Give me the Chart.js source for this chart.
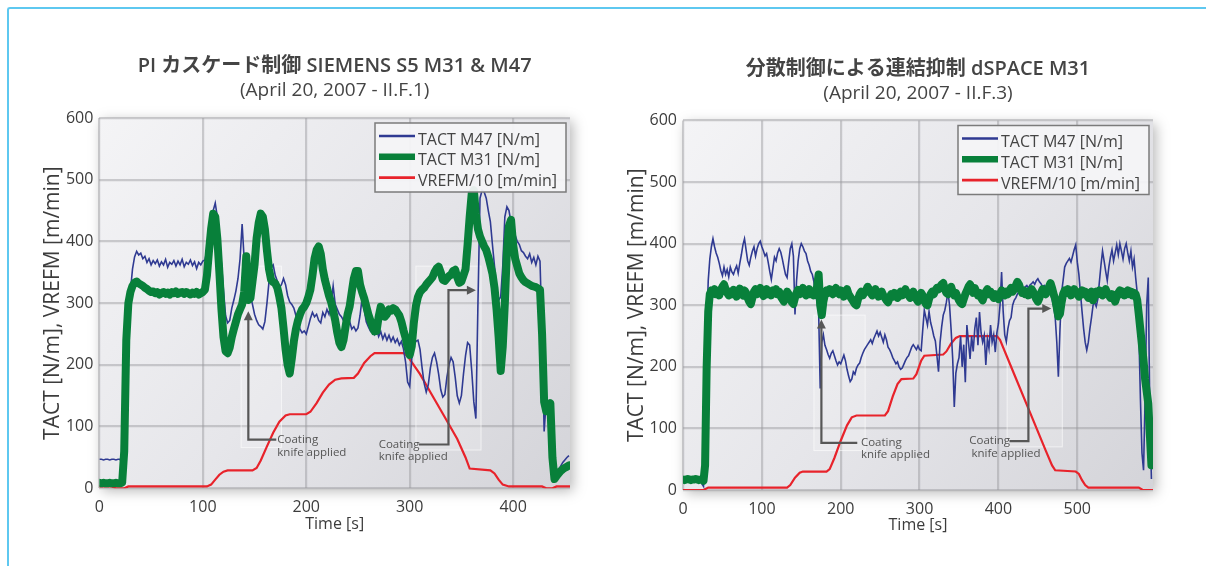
<!DOCTYPE html>
<html>
<head>
<meta charset="utf-8">
<script src="https://cdn.jsdelivr.net/npm/chart.js@4.4.1/dist/chart.umd.min.js"></script>
<style>
  html, body { margin: 0; padding: 0; background: #fff; }
  body { width: 1206px; height: 566px; position: relative; overflow: hidden; }
  .frame {
    position: absolute; left: 7px; top: 7px; width: 1230px; height: 600px;
    border-top: 2px solid #5ec8f0; border-left: 2px solid #5ec8f0;
    border-top-left-radius: 3px; box-sizing: border-box;
  }
  #leftChart { position: absolute; left: 0; top: 0; }
  #rightChart { position: absolute; left: 600px; top: 0; }
</style>
</head>
<body>
<div class="frame"></div>
<canvas id="leftChart" width="600" height="566"></canvas>
<canvas id="rightChart" width="606" height="566"></canvas>
<script>
// ---- left panel: PI cascade, SIEMENS S5 (sampled every 2 s, from t = 0) ----
const leftStep = 2;
const leftM47 = [
  47, 47, 46, 47, 47, 46, 47, 47, 46, 47,
  47, 40, 15, 90, 230, 320, 355, 375, 384, 378,
  381, 372, 376, 366, 372, 362, 369, 364, 370, 360,
  367, 362, 371, 358, 366, 363, 369, 360, 368, 362,
  371, 359, 366, 363, 370, 361, 367, 356, 366, 362,
  368, 370, 385, 405, 430, 450, 462, 440, 395, 365,
  320, 280, 268, 272, 292, 305, 320, 340, 372, 428,
  370, 345, 328, 312, 298, 282, 272, 265, 262, 258,
  270, 300, 335, 358, 362, 345, 336, 325, 330, 340,
  330, 312, 302, 298, 292, 280, 268, 258, 252, 255,
  250, 262, 275, 285, 278, 282, 272, 268, 285, 278,
  290, 282, 300, 328, 298, 290, 282, 278, 272, 268,
  262, 270, 258, 262, 255, 260, 280, 308, 290, 270,
  262, 255, 262, 250, 258, 246, 254, 242, 250, 240,
  248, 238, 245, 236, 242, 232, 238, 226, 205, 172,
  165, 210, 232, 238, 240, 225, 195, 170, 156, 168,
  195, 212, 219, 205, 185, 160, 148, 152, 180, 200,
  212, 205, 180, 150, 138, 150, 185, 215, 236, 232,
  190, 140, 113, 300, 470, 483, 480, 470, 450, 432,
  395, 360, 325, 305, 310, 360, 440, 456, 450, 430,
  420, 410, 400, 395, 385, 382, 376, 372, 380, 366,
  374, 362, 376, 368, 250, 92, 142, 138, 130, 40,
  20, 24, 30, 36, 42, 46, 50, 53
];
const leftM31 = [
  9, 8, 9, 8, 8, 9, 8, 8, 9, 8,
  8, 9, 60, 240, 300, 318, 328, 333, 335, 332,
  330, 328, 325, 323, 320, 318, 319, 316, 318, 314,
  316, 318, 315, 317, 314, 318, 316, 319, 315, 317,
  318, 315, 318, 316, 314, 317, 315, 318, 314, 316,
  318, 322, 345, 385, 420, 445, 440, 405, 350, 290,
  245, 222, 219, 228, 245, 258, 270, 282, 290, 298,
  318, 376, 305, 308, 335, 362, 405, 430, 445, 440,
  420, 385, 355, 338, 334, 332, 325, 310, 292, 260,
  225, 200, 186, 210, 238, 258, 272, 282, 290, 294,
  300, 310, 322, 345, 372, 386, 392, 380, 355, 338,
  325, 312, 302, 288, 272, 252, 236, 229, 240, 262,
  282, 295, 318, 340, 352, 352, 330, 318, 308, 295,
  282, 272, 262, 254, 255, 278, 294, 286, 278, 282,
  290, 288, 292, 290, 285, 280, 270, 256, 244, 228,
  216, 230, 268, 295, 310, 318, 322, 325, 330, 334,
  338, 342, 350, 356, 359, 350, 338, 336, 340, 344,
  346, 352, 354, 342, 333, 335, 345, 355, 395, 440,
  478, 483, 445, 420, 408, 400, 392, 386, 375, 362,
  348, 325, 290, 245, 190, 230, 300, 385, 425, 435,
  395, 372, 360, 348, 342, 337, 334, 332, 330, 328,
  327, 326, 324, 322, 250, 140, 125, 130, 138, 50,
  15, 20, 24, 28, 31, 33, 35, 37
];
const leftVrefT = [0, 12, 16, 24, 28, 104, 108, 112, 116, 120, 124, 148, 152, 156, 162, 168, 174, 180, 184,
  200, 204, 210, 216, 222, 228, 234, 246, 250, 256, 262, 266, 294, 298, 310, 322, 334, 346, 354, 358,
  378, 382, 386, 390, 396, 428, 432, 438, 442, 455];
const leftVref = [3, 3, 0, 0, 3, 3, 6, 14, 22, 27, 29, 29, 33, 45, 68, 90, 108, 118, 120,
  120, 124, 138, 155, 168, 176, 178, 179, 186, 203, 214, 219, 219, 214, 185, 150, 115, 80, 50, 32,
  29, 24, 14, 6, 3, 3, 0, 0, 3, 3];
const leftXTicks = [0, 100, 200, 300, 400];

// ---- right panel: distributed control, dSPACE (sampled every 2 s, from t = 0) ----
const rightStep = 2;
const rightM47 = [
  18, 18, 17, 18, 18, 17, 18, 18, 17, 18,
  18, 17, 10, 6, 120, 260, 340, 375, 395, 408,
  395, 385, 378, 368, 356, 348, 362, 350, 358, 346,
  362, 354, 350, 358, 364, 352, 368, 382, 398, 408,
  390, 372, 365, 378, 388, 395, 380, 392, 400, 404,
  395, 388, 380, 384, 370, 355, 342, 360, 378, 372,
  385, 392, 386, 375, 362, 350, 345, 370, 392, 400,
  380, 285, 340, 372, 392, 400, 395, 388, 384, 372,
  365, 355, 350, 338, 318, 305, 290, 165, 240, 252,
  235, 228, 220, 214, 222, 226, 218, 210, 203, 208,
  205, 212, 219, 210, 196, 185, 176, 180, 192, 188,
  198, 203, 206, 215, 222, 228, 232, 236, 240, 244,
  238, 246, 252, 258, 250, 256, 248, 240, 252, 244,
  232, 228, 222, 215, 210, 205, 208, 200, 196, 198,
  204, 210, 215, 218, 225, 232, 236, 232, 228, 234,
  228, 226, 260, 292, 280, 268, 290, 272, 262, 250,
  242, 218, 192, 240, 265, 284, 292, 305, 322, 300,
  260, 213, 135, 190, 205, 215, 250, 200, 236, 175,
  268, 240, 213, 250, 225, 262, 280, 235, 289, 255,
  240, 251, 203, 245, 230, 268, 240, 252, 224, 255,
  270, 300, 354, 290, 252, 241, 262, 275, 280, 300,
  308, 312, 318, 322, 326, 324, 327, 330, 332, 328,
  333, 335, 338, 334, 340, 343, 338, 335, 330, 332,
  328, 324, 322, 320, 310, 298, 280, 240, 184, 260,
  320, 340, 362, 368, 372, 376, 370, 380, 390, 398,
  370, 350, 320, 290, 262, 240, 227, 240, 262, 280,
  300, 305, 298, 310, 338, 365, 388, 372, 355, 340,
  362, 378, 390, 372, 385, 398, 382, 400, 388, 375,
  392, 400, 385, 372, 388, 362, 375, 345, 320, 260,
  150, 60, 32, 150, 300, 345, 120, 18
];
const rightM31 = [
  17, 16, 17, 18, 17, 16, 17, 17, 18, 17,
  16, 17, 17, 15, 40, 200, 290, 318, 324, 320,
  326, 318, 322, 316, 325, 330, 334, 326, 320, 316,
  322, 318, 325, 320, 314, 322, 327, 319, 316, 324,
  320, 312, 306, 302, 312, 322, 326, 318, 322, 328,
  320, 315, 322, 326, 318, 322, 316, 324, 320, 326,
  318, 322, 314, 310, 306, 316, 322, 318, 312, 305,
  302, 312, 320, 325, 318, 322, 328, 320, 316, 322,
  326, 318, 322, 316, 320, 330, 350, 300, 284, 306,
  318, 324, 320, 326, 322, 318, 324, 328, 322, 318,
  324, 320, 314, 322, 326, 318, 314, 310, 306, 302,
  300, 310, 318, 322, 316, 320, 324, 330, 326, 320,
  316, 322, 326, 320, 314, 318, 322, 316, 312, 308,
  305, 312, 318, 314, 320, 316, 312, 318, 322, 316,
  320, 326, 320, 316, 312, 318, 322, 316, 310, 306,
  314, 320, 316, 308, 302, 300, 310, 318, 322, 318,
  324, 328, 326, 330, 334, 336, 326, 320, 318, 324,
  330, 322, 316, 320, 314, 308, 304, 302, 310, 318,
  324, 330, 334, 326, 320, 328, 322, 316, 320, 312,
  308, 316, 322, 326, 318, 322, 316, 312, 318, 314,
  310, 318, 324, 320, 316, 322, 318, 324, 328, 322,
  326, 332, 338, 334, 326, 320, 324, 318, 322, 316,
  320, 326, 322, 316, 310, 306, 312, 320, 326, 322,
  318, 324, 330, 336, 328, 318, 310, 296, 282, 286,
  304, 318, 324, 320, 326, 322, 316, 320, 326, 322,
  318, 314, 320, 324, 318, 322, 316, 312, 318, 322,
  308, 316, 322, 318, 324, 320, 316, 322, 326, 320,
  316, 312, 318, 312, 306, 314, 320, 324, 318, 322,
  316, 320, 324, 318, 322, 316, 320, 318, 308, 285,
  260, 235, 210, 180, 160, 140, 90, 40
];
const rightVrefT = [0, 26, 32, 132, 136, 142, 148, 152, 182, 186, 192, 200, 208, 214, 220, 256, 260, 266, 272, 277,
  292, 296, 302, 306, 330, 334, 340, 346, 351, 398, 402, 420, 440, 460, 468, 472, 498, 502, 506, 510, 514,
  578, 583, 596];
const rightVref = [0, 0, 4, 4, 8, 20, 28, 30, 30, 34, 52, 80, 105, 118, 121, 121, 128, 152, 172, 180,
  181, 188, 210, 218, 220, 225, 238, 247, 250, 250, 244, 188, 126, 64, 40, 32, 30, 26, 16, 8, 4,
  4, 0, 0];
const rightXTicks = [0, 100, 200, 300, 400, 500];

const yTicks = [0, 100, 200, 300, 400, 500, 600];
const seriesLabels = ['TACT M47 [N/m]', 'TACT M31 [N/m]', 'VREFM/10 [m/min]'];

// "Coating knife applied" call-outs, in data units (t [s], value)
const leftNotes = [
  { path: [[171, 79], [144, 79], [144, 287]], lines: [['Coating', 172, 78], ['knife applied', 172, 58]] },
  { path: [[309, 71], [337.5, 71], [337.5, 321], [364, 321]], lines: [['Coating', 270, 71], ['knife applied', 270, 51]] }
];
const rightNotes = [
  { path: [[221, 76.5], [175.5, 76.5], [175.5, 277]], lines: [['Coating', 225.6, 77], ['knife applied', 225.6, 57]] },
  { path: [[414, 79.5], [438, 79.5], [438, 294.6], [467, 294.6]], lines: [['Coating', 363, 79.5], ['knife applied', 365.8, 59.5]] }
];
// faint highlight boxes [t0, v0, t1, v1]
const leftBoxes = [[137, 66, 176, 360], [306, 62, 369, 360]];
const rightBoxes = [[166, 64, 231, 284], [411, 70, 481, 300]];

Chart.defaults.font.family = "'Open Sans', 'Noto Sans CJK JP', sans-serif";
Chart.defaults.color = '#3c3c3c';

const COLORS = { m47: '#2f3a92', m31: '#08803a', vref: '#e8232b' };

function stepPoints(values, step) {
  return values.map((v, i) => ({ x: i * step, y: v }));
}
function pairPoints(ts, vs) {
  return ts.map((t, i) => ({ x: t, y: vs[i] }));
}

// grey plot panel with a soft drop shadow
const plotBackground = {
  id: 'plotBackground',
  beforeDraw(chart) {
    const { ctx, chartArea: a } = chart;
    ctx.save();
    const g = ctx.createLinearGradient(a.left, a.top, a.right, a.bottom);
    g.addColorStop(0, '#f4f4f6');
    g.addColorStop(0.5, '#e6e6ea');
    g.addColorStop(1, '#d4d4d9');
    ctx.shadowColor = 'rgba(0,0,0,0.28)';
    ctx.shadowBlur = 12;
    ctx.shadowOffsetX = 3;
    ctx.shadowOffsetY = 3;
    ctx.fillStyle = g;
    ctx.fillRect(a.left, a.top, a.width, a.height);
    ctx.restore();
  }
};

const callouts = {
  id: 'callouts',
  beforeDatasetsDraw(chart, args, opts) {
    const { ctx, scales: { x, y } } = chart;
    ctx.save();
    ctx.fillStyle = 'rgba(255,255,255,0.18)';
    ctx.strokeStyle = 'rgba(255,255,255,0.6)';
    ctx.lineWidth = 1;
    opts.boxes.forEach(b => {
      const x0 = x.getPixelForValue(b[0]), y0 = y.getPixelForValue(b[3]);
      const w = x.getPixelForValue(b[2]) - x0, h = y.getPixelForValue(b[1]) - y0;
      ctx.fillRect(x0, y0, w, h);
      ctx.strokeRect(x0, y0, w, h);
    });
    ctx.restore();
  },
  afterDatasetsDraw(chart, args, opts) {
    const { ctx, scales: { x, y } } = chart;
    opts.notes.forEach(note => {
      const pts = note.path.map(p => [x.getPixelForValue(p[0]), y.getPixelForValue(p[1])]);
      const n = pts.length;
      const [tx, ty] = pts[n - 1];
      const ang = Math.atan2(ty - pts[n - 2][1], tx - pts[n - 2][0]);
      const head = 9, half = 4.5;
      ctx.save();
      ctx.strokeStyle = '#575757';
      ctx.fillStyle = '#575757';
      ctx.lineWidth = 2.2;
      ctx.beginPath();
      ctx.moveTo(pts[0][0], pts[0][1]);
      for (let i = 1; i < n - 1; i++) ctx.lineTo(pts[i][0], pts[i][1]);
      ctx.lineTo(tx - Math.cos(ang) * head * 0.8, ty - Math.sin(ang) * head * 0.8);
      ctx.stroke();
      ctx.beginPath();
      ctx.moveTo(tx, ty);
      ctx.lineTo(tx - head * Math.cos(ang) + half * Math.sin(ang), ty - head * Math.sin(ang) - half * Math.cos(ang));
      ctx.lineTo(tx - head * Math.cos(ang) - half * Math.sin(ang), ty - head * Math.sin(ang) + half * Math.cos(ang));
      ctx.closePath();
      ctx.fill();
      ctx.font = "11.5px 'Open Sans', sans-serif";
      ctx.fillStyle = '#555';
      ctx.textAlign = 'left';
      ctx.textBaseline = 'middle';
      note.lines.forEach(l => ctx.fillText(l[0], x.getPixelForValue(l[1]), y.getPixelForValue(l[2])));
      ctx.restore();
    });
  }
};

// boxed legend sitting inside the plot, top right
const insideLegend = {
  id: 'insideLegend',
  afterDraw(chart, args, opts) {
    const { ctx, chartArea: a } = chart;
    const bx = a.right - opts.right - opts.width, by = a.top + opts.top;
    const sampleWidths = [2.5, 6.5, 2.8];
    ctx.save();
    ctx.fillStyle = 'rgba(244,244,246,0.94)';
    ctx.fillRect(bx, by, opts.width, opts.height);
    ctx.strokeStyle = '#7b7b7b';
    ctx.lineWidth = 1.5;
    ctx.strokeRect(bx, by, opts.width, opts.height);
    ctx.font = "16px 'Open Sans', sans-serif";
    ctx.textBaseline = 'middle';
    seriesLabels.forEach((label, i) => {
      const ds = chart.data.datasets.find(d => d.label === label);
      const cy = by + 17 + i * 20.8;
      ctx.strokeStyle = ds.borderColor;
      ctx.lineWidth = sampleWidths[i];
      ctx.beginPath();
      ctx.moveTo(bx + 4, cy - 4);
      ctx.lineTo(bx + 40, cy - 4);
      ctx.stroke();
      ctx.fillStyle = '#444';
      ctx.fillText(label, bx + 43, cy);
    });
    ctx.restore();
  }
};

function buildChart(canvasId, cfg) {
  return new Chart(document.getElementById(canvasId).getContext('2d'), {
    type: 'line',
    data: {
      datasets: [
        {
          label: seriesLabels[0],
          data: stepPoints(cfg.m47, cfg.step),
          borderColor: COLORS.m47,
          borderWidth: 1.6,
          order: 1
        },
        {
          label: seriesLabels[1],
          data: stepPoints(cfg.m31, cfg.step),
          borderColor: COLORS.m31,
          borderWidth: 8,
          borderJoinStyle: 'round',
          borderCapStyle: 'round',
          order: 0
        },
        {
          label: seriesLabels[2],
          data: pairPoints(cfg.vrefT, cfg.vref),
          borderColor: COLORS.vref,
          borderWidth: 2.2,
          order: 2
        }
      ]
    },
    options: {
      responsive: false,
      animation: false,
      parsing: false,
      elements: { point: { radius: 0 }, line: { tension: 0 } },
      layout: { padding: cfg.padding },
      scales: {
        x: {
          type: 'linear',
          min: 0,
          max: cfg.xMax,
          grid: { color: 'rgba(150,150,156,0.45)', lineWidth: 2.2, drawTicks: false },
          border: { display: false },
          ticks: { padding: 10, font: { size: 16 } },
          afterBuildTicks(scale) { scale.ticks = cfg.xTicks.map(v => ({ value: v })); },
          title: { display: true, text: 'Time [s]', font: { size: 16 }, padding: { top: 0, bottom: cfg.xTitlePad } },
          afterFit(scale) { scale.height = 60; }
        },
        y: {
          min: 0,
          max: 600,
          grid: { color: 'rgba(150,150,156,0.45)', lineWidth: 2.2, drawTicks: false },
          border: { display: false },
          ticks: { padding: 6, font: { size: 16 } },
          afterBuildTicks(scale) { scale.ticks = yTicks.map(v => ({ value: v })); },
          title: { display: true, text: 'TACT [N/m], VREFM [m/min]', font: { size: 21 }, padding: { top: cfg.yTitlePad, bottom: 0 } },
          afterFit(scale) { scale.width = cfg.yWidth; }
        }
      },
      plugins: {
        legend: { display: false },
        tooltip: { enabled: false },
        title: {
          display: true,
          fullSize: false,
          text: cfg.title,
          color: '#444',
          font: { size: 20, weight: '600' },
          padding: { top: cfg.titlePadTop, bottom: 0 }
        },
        subtitle: {
          display: true,
          fullSize: false,
          text: cfg.subtitle,
          color: '#444',
          font: { size: 19 },
          padding: { top: 1, bottom: cfg.subPadBottom }
        },
        insideLegend: { right: 4, top: 5, width: 191, height: 69 },
        callouts: { notes: cfg.notes, boxes: cfg.boxes }
      }
    },
    plugins: [plotBackground, callouts, insideLegend]
  });
}

document.addEventListener('DOMContentLoaded', function () {
  buildChart('leftChart', {
    m47: leftM47, m31: leftM31, vrefT: leftVrefT, vref: leftVref, step: leftStep,
    xMax: 455, xTicks: leftXTicks,
    title: 'PI カスケード制御 SIEMENS S5 M31 & M47',
    subtitle: '(April 20, 2007 - II.F.1)',
    padding: { left: 30, right: 30, top: 0, bottom: 17.7 },
    yWidth: 69.4, yTitlePad: 10.4, xTitlePad: 14.2,
    titlePadTop: 54, subPadBottom: 16.2,
    notes: leftNotes, boxes: leftBoxes
  });
  buildChart('rightChart', {
    m47: rightM47, m31: rightM31, vrefT: rightVrefT, vref: rightVref, step: rightStep,
    xMax: 596, xTicks: rightXTicks,
    title: '分散制御による連結抑制 dSPACE M31',
    subtitle: '(April 20, 2007 - II.F.3)',
    padding: { left: 15, right: 53, top: 0, bottom: 16 },
    yWidth: 68, yTitlePad: 9.1, xTitlePad: 15.4,
    titlePadTop: 57, subPadBottom: 15.7,
    notes: rightNotes, boxes: rightBoxes
  });
});
</script>
</body>
</html>
